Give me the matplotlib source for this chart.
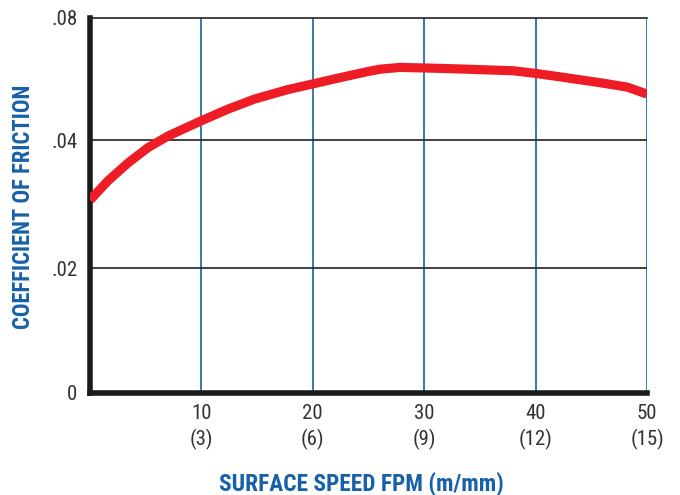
import numpy as np
import matplotlib
matplotlib.use("Agg")
import matplotlib.pyplot as plt
from matplotlib import font_manager as fm

# ---- data ----
speed_fpm = [0, 1.6, 3.4, 5.2, 7.0, 8.8, 10.0, 12.4, 14.8, 17.8, 20.1, 22.5, 25.0, 26.0,
             27.8, 30.3, 33.2, 38.0, 40.1, 42.8, 45.8, 48.2, 50]
friction = [0.0306, 0.0336, 0.0364, 0.0388, 0.0413, 0.0443, 0.0463, 0.0501, 0.0534, 0.0565,
            0.0584, 0.0604, 0.0624, 0.0631, 0.0637, 0.0635, 0.0632, 0.0626, 0.0617, 0.0603,
            0.0587, 0.0573, 0.0550]
x_ticks = [10, 20, 30, 40, 50]
x_metric = ["3", "6", "9", "12", "15"]
y_ticks = [0, 0.02, 0.04, 0.08]
y_labels = ["0", ".02", ".04", ".08"]

# condensed sans font choice
names = {f.name for f in fm.fontManager.ttflist}
fam = "DejaVu Sans"
for cand in ["Liberation Sans Narrow", "Roboto Condensed", "Archivo Narrow",
             "Barlow Semi Condensed", "Fira Sans Condensed"]:
    if cand in names:
        fam = cand
        break

BLUE = "#1661aa"
RED = "#ee1d25"
GRAY = "#333333"

# the printed y axis places 0, .02, .04, .08 at (nearly) equal spacing
_yv = np.array(y_ticks)
_yp = np.array([0.0, 125.0, 253.0, 375.5])

def fwd(v):
    return np.interp(v, _yv, _yp)

def inv(p):
    return np.interp(p, _yp, _yv)

fig = plt.figure(figsize=(6.8, 4.95), dpi=100)
ax = fig.add_axes([90/680, 102/495, (647-90)/680, (393-17.5)/495])
ax.set_yscale("function", functions=(fwd, inv))
ax.set_xlim(0, 50)
ax.set_ylim(0, 0.08)

ax.plot(speed_fpm, friction, color=RED, lw=6.6, solid_capstyle="butt",
        solid_joinstyle="round", zorder=5)

for xv in x_ticks:
    ax.axvline(xv, color=BLUE, lw=1.2, zorder=2)
for yv in y_ticks[1:3]:
    ax.axhline(yv, color="#222222", lw=1.2, zorder=2)

ax.spines["right"].set_visible(False)
ax.spines["top"].set_linewidth(1.2)
ax.spines["top"].set_color("#222222")
for s in ["left", "bottom"]:
    ax.spines[s].set_linewidth(4.0)
    ax.spines[s].set_color("#1a1a1a")

ax.set_xticks(x_ticks)
ax.set_xticklabels([f"{a}\n({b})" for a, b in zip(x_ticks, x_metric)],
                   fontfamily=fam, fontsize=15, color=GRAY, linespacing=1.35)
ax.set_yticks(y_ticks)
ax.set_yticklabels(y_labels, fontfamily=fam, fontsize=15, color=GRAY)
ax.tick_params(axis="both", length=0)
ax.tick_params(axis="x", pad=8)
ax.tick_params(axis="y", pad=9)

fig.text(361/680, 1 - 484/495, "SURFACE SPEED FPM (m/mm)", ha="center", va="center",
         fontfamily=fam, fontweight="bold", fontsize=16.8, color=BLUE)
fig.text(24/680, 1 - 207/495, "COEFFICIENT OF FRICTION", ha="center", va="center",
         rotation=90, fontfamily=fam, fontweight="bold", fontsize=16.3, color=BLUE)

fig.savefig("out.png", dpi=100)
